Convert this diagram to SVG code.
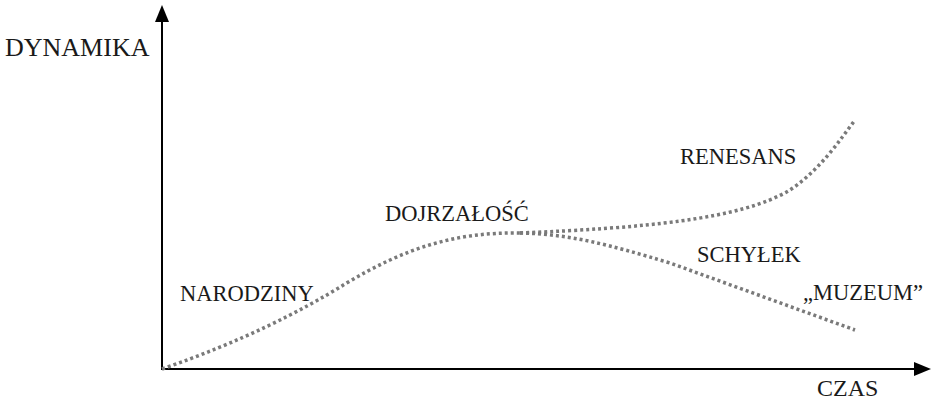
<svg xmlns="http://www.w3.org/2000/svg" width="931" height="405" viewBox="0 0 931 405">
<style>
.axis{stroke:#000;stroke-width:2;fill:none}
.curve{stroke:#7a7a7a;stroke-width:3.5;stroke-dasharray:3 3;fill:none}
</style>
<g id="axes">
<line class="axis" x1="162" y1="370" x2="162" y2="20"/>
<path d="M155,22 L162,5 L169,22 z" fill="#000"/>
<line class="axis" x1="161" y1="369" x2="916" y2="369"/>
<path d="M914,362 L931,369 L914,376 z" fill="#000"/>
</g>
<g id="connectors">
<path class="curve" d="M162,369 C240,342 300,312 345,284 C405,248 455,232 520,233"/>
<path class="curve" d="M520,233 C640,228 740,220 790,190 C820,170 840,140 855,120"/>
<path class="curve" d="M520,233 C570,234 610,245 670,263 L855,330"/>
</g>
<g id="labels" font-family="Liberation Serif" font-size="22.5" fill="#1a1a1a">
<text id="dynamika" x="5" y="56" font-size="26">DYNAMIKA</text>
<text id="czas" x="817" y="396" font-size="24">CZAS</text>
<text id="narodziny" x="180" y="301">NARODZINY</text>
<text id="dojrzalosc" x="385" y="221">DOJRZAŁOŚĆ</text>
<text id="renesans" x="680" y="164">RENESANS</text>
<text id="schylek" x="697" y="262">SCHYŁEK</text>
<text id="muzeum" x="803" y="300">„MUZEUM”</text>
</g>
</svg>
